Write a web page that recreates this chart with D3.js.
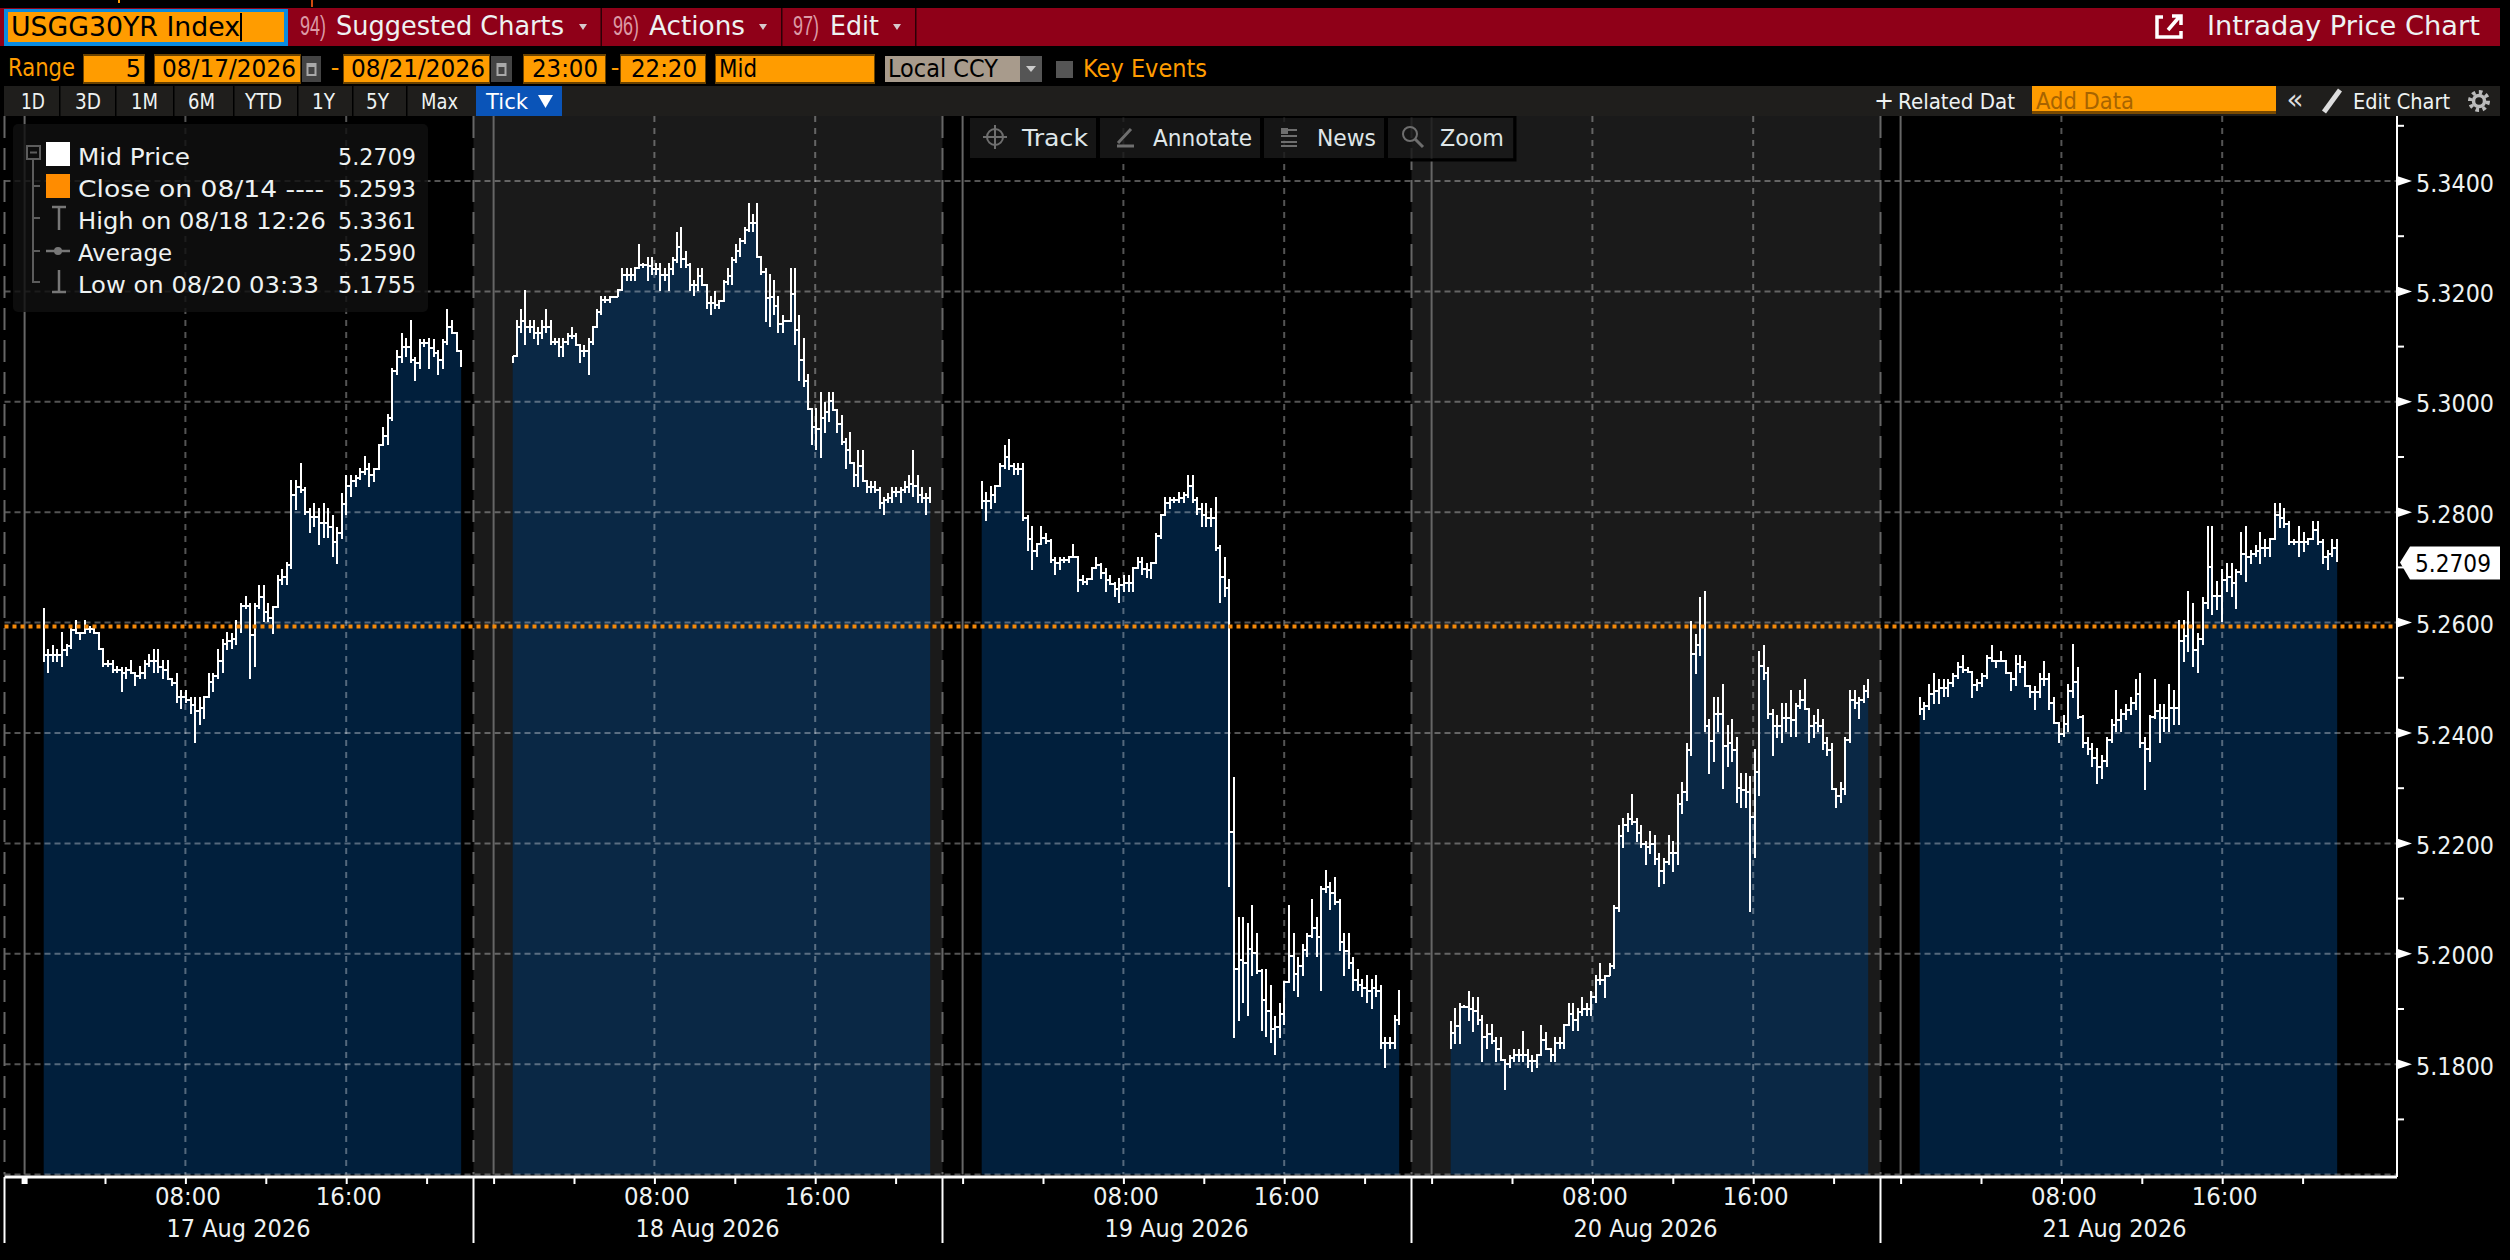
<!DOCTYPE html>
<html><head><meta charset="utf-8">
<script src="https://cdn.jsdelivr.net/npm/d3@7"></script>
<style>html,body{margin:0;padding:0;background:#000}svg{display:block}text{font-family:"DejaVu Sans",sans-serif}</style>
</head><body><svg id="c" width="2510" height="1260"></svg>
<script>
const ticker="USGG30YR Index";
const dayLabels=["17 Aug 2026","18 Aug 2026","19 Aug 2026","20 Aug 2026","21 Aug 2026"];
const yTicks=[5.34,5.32,5.30,5.28,5.26,5.24,5.22,5.20,5.18];
const yMinor=[5.35,5.33,5.31,5.29,5.27,5.25,5.23,5.21,5.19,5.17];
const gridY=[5.34,5.32,5.30,5.28,5.26,5.24,5.22,5.20,5.18,5.16];
const hourTicks=[0,4,8,12,16,20];
const hourLabels={8:"08:00",16:"16:00"};
const lastPrice=5.2709, prevClose=5.2593;
const legendRows=[["Mid Price","5.2709"],["Close on 08/14 ----","5.2593"],["High on 08/18 12:26","5.3361"],["Average","5.2590"],["Low on 08/20 03:33","5.1755"]];
const day1High=[5.2626,5.2553,5.2559,5.2553,5.2583,5.2561,5.2592,5.2605,5.2582,5.2605,5.2594,5.2594,5.2582,5.2553,5.2532,5.2532,5.2521,5.2520,5.2520,5.2532,5.2509,5.2521,5.2532,5.2543,5.2553,5.2553,5.2532,5.2532,5.2497,5.2509,5.2478,5.2478,5.2466,5.2466,5.2466,5.2466,5.2509,5.2509,5.2553,5.2571,5.2583,5.2582,5.2605,5.2636,5.2648,5.2636,5.2636,5.2668,5.2668,5.2636,5.2614,5.2686,5.2698,5.2709,5.2858,5.2858,5.2890,5.2846,5.2807,5.2817,5.2807,5.2817,5.2807,5.2795,5.2774,5.2835,5.2867,5.2867,5.2867,5.2880,5.2901,5.2889,5.2878,5.2922,5.2955,5.2977,5.3061,5.3093,5.3125,5.3115,5.3148,5.3082,5.3113,5.3113,5.3115,5.3113,5.3094,5.3113,5.3169,5.3148,5.3125,5.3093];
const day1Low=[5.2529,5.2508,5.2529,5.2529,5.2519,5.2539,5.2553,5.2580,5.2568,5.2580,5.2582,5.2580,5.2551,5.2519,5.2519,5.2508,5.2508,5.2475,5.2497,5.2509,5.2485,5.2497,5.2497,5.2519,5.2508,5.2508,5.2497,5.2497,5.2485,5.2454,5.2443,5.2454,5.2435,5.2381,5.2414,5.2425,5.2466,5.2475,5.2497,5.2508,5.2551,5.2553,5.2559,5.2582,5.2624,5.2497,5.2519,5.2624,5.2601,5.2601,5.2580,5.2641,5.2668,5.2668,5.2698,5.2804,5.2834,5.2795,5.2762,5.2774,5.2741,5.2753,5.2753,5.2719,5.2707,5.2751,5.2795,5.2828,5.2846,5.2858,5.2867,5.2846,5.2855,5.2878,5.2922,5.2922,5.2966,5.3049,5.3070,5.3082,5.3070,5.3037,5.3059,5.3100,5.3059,5.3082,5.3049,5.3059,5.3103,5.3124,5.3091,5.3063];
const day2High=[5.3083,5.3148,5.3169,5.3203,5.3148,5.3148,5.3136,5.3148,5.3169,5.3148,5.3115,5.3115,5.3115,5.3125,5.3136,5.3125,5.3103,5.3103,5.3115,5.3136,5.3169,5.3191,5.3191,5.3191,5.3191,5.3203,5.3242,5.3242,5.3242,5.3242,5.3285,5.3252,5.3263,5.3263,5.3252,5.3252,5.3242,5.3252,5.3263,5.3308,5.3317,5.3274,5.3252,5.3221,5.3242,5.3242,5.3212,5.3191,5.3201,5.3182,5.3221,5.3242,5.3263,5.3285,5.3296,5.3317,5.3361,5.3340,5.3361,5.3263,5.3242,5.3231,5.3221,5.3191,5.3157,5.3147,5.3242,5.3242,5.3157,5.3115,5.3050,5.2988,5.2988,5.3017,5.3000,5.3017,5.3017,5.2986,5.2976,5.2934,5.2945,5.2890,5.2912,5.2912,5.2857,5.2857,5.2857,5.2846,5.2828,5.2835,5.2846,5.2846,5.2846,5.2857,5.2867,5.2912,5.2867,5.2846,5.2835,5.2846];
const day2Low=[5.3070,5.3082,5.3124,5.3103,5.3124,5.3113,5.3103,5.3113,5.3124,5.3103,5.3103,5.3082,5.3082,5.3103,5.3113,5.3103,5.3070,5.3082,5.3049,5.3103,5.3136,5.3157,5.3179,5.3179,5.3189,5.3189,5.3203,5.3219,5.3219,5.3219,5.3242,5.3242,5.3219,5.3230,5.3230,5.3201,5.3219,5.3201,5.3230,5.3252,5.3242,5.3242,5.3201,5.3191,5.3201,5.3212,5.3168,5.3157,5.3168,5.3168,5.3182,5.3212,5.3212,5.3252,5.3262,5.3285,5.3307,5.3307,5.3263,5.3230,5.3145,5.3136,5.3157,5.3124,5.3124,5.3145,5.3147,5.3103,5.3037,5.3026,5.2986,5.2922,5.2912,5.2899,5.2943,5.2964,5.2986,5.2943,5.2922,5.2878,5.2890,5.2846,5.2846,5.2857,5.2834,5.2834,5.2834,5.2805,5.2795,5.2816,5.2816,5.2828,5.2816,5.2835,5.2835,5.2828,5.2816,5.2816,5.2795,5.2816];
const day3High=[5.2856,5.2836,5.2847,5.2847,5.2889,5.2921,5.2933,5.2889,5.2889,5.2889,5.2795,5.2775,5.2742,5.2775,5.2763,5.2752,5.2719,5.2719,5.2719,5.2719,5.2742,5.2719,5.2686,5.2679,5.2699,5.2719,5.2708,5.2699,5.2686,5.2673,5.2681,5.2686,5.2686,5.2699,5.2719,5.2719,5.2708,5.2708,5.2763,5.2795,5.2828,5.2828,5.2828,5.2836,5.2836,5.2868,5.2868,5.2828,5.2816,5.2816,5.2807,5.2828,5.2741,5.2719,5.2679,5.2320,5.2067,5.2067,5.2056,5.2089,5.2038,5.1972,5.1972,5.1944,5.1888,5.1911,5.1944,5.2089,5.2038,5.1995,5.2018,5.2038,5.2099,5.2067,5.2122,5.2151,5.2130,5.2140,5.2099,5.2038,5.2038,5.1995,5.1972,5.1954,5.1962,5.1954,5.1962,5.1944,5.1850,5.1850,5.1890,5.1934];
const day3Low=[5.2805,5.2784,5.2805,5.2816,5.2847,5.2879,5.2877,5.2868,5.2868,5.2784,5.2729,5.2696,5.2719,5.2742,5.2742,5.2708,5.2686,5.2696,5.2708,5.2708,5.2719,5.2656,5.2668,5.2668,5.2679,5.2699,5.2679,5.2656,5.2668,5.2647,5.2635,5.2656,5.2656,5.2656,5.2699,5.2686,5.2681,5.2679,5.2708,5.2752,5.2795,5.2805,5.2816,5.2816,5.2816,5.2826,5.2816,5.2795,5.2773,5.2773,5.2773,5.2729,5.2635,5.2647,5.2121,5.1848,5.1878,5.1911,5.1888,5.1960,5.1964,5.1860,5.1850,5.1839,5.1817,5.1848,5.1871,5.1953,5.1932,5.1922,5.1960,5.1995,5.2028,5.1995,5.1932,5.2111,5.2079,5.2089,5.2005,5.1960,5.1972,5.1932,5.1932,5.1922,5.1911,5.1900,5.1922,5.1827,5.1794,5.1827,5.1827,5.1871];
const day4High=[5.1878,5.1901,5.1911,5.1907,5.1933,5.1922,5.1922,5.1890,5.1872,5.1872,5.1849,5.1849,5.1807,5.1817,5.1828,5.1828,5.1860,5.1828,5.1817,5.1817,5.1871,5.1859,5.1828,5.1849,5.1849,5.1871,5.1911,5.1911,5.1901,5.1922,5.1911,5.1933,5.1962,5.1983,5.1962,5.1983,5.2089,5.2234,5.2246,5.2255,5.2289,5.2246,5.2234,5.2205,5.2223,5.2216,5.2182,5.2173,5.2216,5.2205,5.2289,5.2311,5.2382,5.2603,5.2580,5.2646,5.2658,5.2425,5.2466,5.2466,5.2488,5.2415,5.2425,5.2393,5.2328,5.2328,5.2322,5.2371,5.2548,5.2559,5.2520,5.2444,5.2433,5.2454,5.2454,5.2477,5.2454,5.2477,5.2498,5.2443,5.2433,5.2444,5.2425,5.2393,5.2382,5.2299,5.2311,5.2393,5.2477,5.2477,5.2466,5.2487,5.2498];
const day4Low=[5.1827,5.1836,5.1836,5.1901,5.1878,5.1859,5.1871,5.1804,5.1827,5.1836,5.1804,5.1807,5.1754,5.1794,5.1804,5.1804,5.1804,5.1794,5.1786,5.1794,5.1817,5.1828,5.1804,5.1804,5.1828,5.1828,5.1871,5.1860,5.1860,5.1888,5.1888,5.1888,5.1911,5.1943,5.1920,5.1959,5.1972,5.2076,5.2192,5.2221,5.2233,5.2202,5.2192,5.2160,5.2181,5.2160,5.2121,5.2127,5.2160,5.2149,5.2160,5.2254,5.2276,5.2358,5.2507,5.2540,5.2402,5.2326,5.2347,5.2402,5.2298,5.2338,5.2347,5.2274,5.2265,5.2265,5.2076,5.2173,5.2286,5.2496,5.2425,5.2358,5.2391,5.2382,5.2402,5.2393,5.2393,5.2443,5.2443,5.2382,5.2391,5.2402,5.2370,5.2358,5.2299,5.2265,5.2274,5.2287,5.2382,5.2443,5.2425,5.2454,5.2464];
const day5High=[5.2465,5.2456,5.2488,5.2509,5.2498,5.2498,5.2498,5.2509,5.2529,5.2542,5.2520,5.2511,5.2498,5.2509,5.2542,5.2560,5.2531,5.2549,5.2531,5.2509,5.2542,5.2542,5.2531,5.2486,5.2486,5.2509,5.2531,5.2509,5.2465,5.2405,5.2432,5.2488,5.2561,5.2520,5.2432,5.2393,5.2382,5.2372,5.2361,5.2393,5.2426,5.2477,5.2444,5.2453,5.2465,5.2498,5.2509,5.2393,5.2432,5.2498,5.2453,5.2453,5.2488,5.2477,5.2604,5.2604,5.2657,5.2636,5.2581,5.2646,5.2775,5.2775,5.2675,5.2698,5.2708,5.2708,5.2698,5.2764,5.2775,5.2731,5.2740,5.2764,5.2752,5.2752,5.2817,5.2817,5.2807,5.2784,5.2752,5.2775,5.2764,5.2752,5.2784,5.2784,5.2752,5.2731,5.2752,5.2752];
const day5Low=[5.2432,5.2424,5.2442,5.2453,5.2453,5.2465,5.2465,5.2483,5.2497,5.2509,5.2509,5.2464,5.2476,5.2483,5.2497,5.2531,5.2518,5.2531,5.2508,5.2476,5.2486,5.2508,5.2486,5.2464,5.2442,5.2464,5.2486,5.2442,5.2432,5.2381,5.2393,5.2402,5.2464,5.2426,5.2372,5.2360,5.2338,5.2308,5.2317,5.2338,5.2382,5.2402,5.2402,5.2424,5.2432,5.2442,5.2372,5.2297,5.2348,5.2426,5.2381,5.2402,5.2402,5.2414,5.2414,5.2529,5.2547,5.2520,5.2508,5.2559,5.2625,5.2613,5.2622,5.2601,5.2656,5.2646,5.2624,5.2686,5.2674,5.2707,5.2718,5.2707,5.2718,5.2719,5.2752,5.2772,5.2772,5.2740,5.2740,5.2718,5.2728,5.2740,5.2752,5.2740,5.2707,5.2696,5.2719,5.2710];

const highs=[day1High,day2High,day3High,day4High,day5High];
const lows=[day1Low,day2Low,day3Low,day4Low,day5Low];

const svg=d3.select("#c");
const W=2510,H=1260;
const PLOT_TOP=116,PLOT_BOTTOM=1174.6,AXIS_Y=1177,AXIS_X=2397,LEFT=4.5,SESSION=469;
const y=d3.scaleLinear().domain([5.16,5.34]).range([1174.6,181]);
const xs=highs.map((_,k)=>d3.scaleLinear().domain([-1,22.3333]).range([LEFT+SESSION*k,LEFT+SESSION*(k+1)]));
const FIRST_H=0.95,LAST_H=21.72;

const FG="#eef2f2",ORANGE="#ff9c00";
function txt(g,s,x,base,size,fill,width,anchor){
  const t=g.append("text").attr("x",x).attr("y",base).attr("font-size",size).attr("fill",fill).text(s);
  if(anchor)t.attr("text-anchor",anchor);
  if(width)t.attr("textLength",width).attr("lengthAdjust","spacingAndGlyphs");
  return t;
}
function rect(g,x0,y0,x1,y1,fill){return g.append("rect").attr("x",x0).attr("y",y0).attr("width",x1-x0).attr("height",y1-y0).attr("fill",fill);}

svg.append("rect").attr("width",W).attr("height",H).attr("fill","#000");

/* plot */
const plot=svg.append("g");
highs.forEach((_,k)=>{ if(k%2===1) rect(plot,xs[k].range()[0],PLOT_TOP,xs[k].range()[1],PLOT_BOTTOM,"#1a1a1a"); });

const areaG=plot.append("g"),gridG=plot.append("g"),lineG=plot.append("g");

highs.forEach((hi,k)=>{
  const lo=lows[k],n=hi.length,x=xs[k];
  const hour=d3.scaleLinear().domain([0,n-1]).range([FIRST_H,LAST_H]);
  const bars=hi.map((h,i)=>{
    const j=Math.min(i+1,n-1);
    const a=Math.max(lo[i],lo[j]),b=Math.min(hi[i],hi[j]);
    return {i,h,l:lo[i],c:(a+b)/2};
  });
  const area=d3.area().curve(d3.curveStepAfter).x(d=>x(hour(d.i))).y0(PLOT_BOTTOM).y1(d=>y(d.c));
  areaG.append("path").attr("d",area(bars)).attr("fill","#02305c").attr("fill-opacity",0.65);
  const pts=[];
  bars.forEach(d=>{
    pts.push([d.i,d.l],[d.i,d.h],[d.i,d.c]);
    if(d.i<n-1)pts.push([d.i+1,d.c]);
  });
  const line=d3.line().x(d=>x(hour(d[0]))).y(d=>y(d[1]));
  lineG.append("path").attr("d",line(pts)).attr("fill","none").attr("stroke","#fff").attr("stroke-width",2).attr("shape-rendering","crispEdges");
});

/* grid */
const GRIDC="rgba(255,255,255,0.33)";
gridY.forEach(v=>gridG.append("line").attr("x1",LEFT).attr("x2",AXIS_X).attr("y1",y(v)).attr("y2",y(v)).attr("stroke",GRIDC).attr("stroke-width",2).attr("stroke-dasharray","6,4"));
xs.forEach((x,k)=>{
  [8,16].forEach(h=>gridG.append("line").attr("x1",x(h)).attr("x2",x(h)).attr("y1",PLOT_TOP).attr("y2",PLOT_BOTTOM).attr("stroke",GRIDC).attr("stroke-width",2).attr("stroke-dasharray","6,6"));
  gridG.append("line").attr("x1",x(0)).attr("x2",x(0)).attr("y1",PLOT_TOP).attr("y2",PLOT_BOTTOM).attr("stroke","#666").attr("stroke-width",2);
  gridG.append("line").attr("x1",x(-1)).attr("x2",x(-1)).attr("y1",PLOT_TOP).attr("y2",PLOT_BOTTOM).attr("stroke","#666").attr("stroke-width",2).attr("stroke-dasharray","22,10");
});
lineG.raise();
plot.append("line").attr("x1",LEFT).attr("x2",AXIS_X).attr("y1",y(prevClose)).attr("y2",y(prevClose)).attr("stroke","#f68a0a").attr("stroke-width",4).attr("stroke-dasharray","4,4");

/* y axis */
const yAx=svg.append("g").attr("transform",`translate(${AXIS_X},0)`)
  .call(d3.axisRight(y).tickValues(yTicks).tickSize(0).tickPadding(19).tickFormat(d3.format(".4f")));
yAx.select(".domain").remove();
yAx.selectAll("text").attr("font-size",24).attr("fill",FG).attr("dy","0.42em").attr("textLength",78).attr("lengthAdjust","spacingAndGlyphs").style("font-family",'"DejaVu Sans",sans-serif');
svg.append("line").attr("x1",AXIS_X).attr("x2",AXIS_X).attr("y1",PLOT_TOP).attr("y2",AXIS_Y).attr("stroke","#fff").attr("stroke-width",2);
yTicks.forEach(v=>svg.append("path").attr("d",d3.line()([[AXIS_X,y(v)-5],[AXIS_X+15,y(v)],[AXIS_X,y(v)+5]])).attr("fill","#fff"));
yMinor.forEach(v=>svg.append("line").attr("x1",AXIS_X).attr("x2",AXIS_X+7).attr("y1",y(v)).attr("y2",y(v)).attr("stroke","#fff").attr("stroke-width",2));
/* last price tag */
const ly=y(lastPrice);
svg.append("path").attr("d",d3.line()([[2400,ly],[2410,ly-16],[2500,ly-16],[2500,ly+17],[2410,ly+17]])).attr("fill","#fff");
txt(svg,lastPrice.toFixed(4),2415,ly+10,24,"#000",76);

/* x axis */
svg.append("line").attr("x1",LEFT).attr("x2",AXIS_X).attr("y1",AXIS_Y).attr("y2",AXIS_Y).attr("stroke","#fff").attr("stroke-width",3);
xs.forEach((x,k)=>{
  const g=svg.append("g").attr("transform",`translate(0,${AXIS_Y})`)
    .call(d3.axisBottom(x).tickValues(hourTicks).tickSize(7).tickPadding(6).tickFormat(h=>hourLabels[h]||""));
  g.select(".domain").remove();
  g.selectAll("line").attr("stroke","#fff").attr("stroke-width",2);
  g.selectAll("text").attr("font-size",24).attr("fill",FG).attr("y",0).attr("dy",28).style("font-family",'"DejaVu Sans",sans-serif')
    .each(function(){ if(d3.select(this).text()) d3.select(this).attr("textLength",66).attr("lengthAdjust","spacingAndGlyphs").attr("dx",2); });
  svg.append("line").attr("x1",x(-1)).attr("x2",x(-1)).attr("y1",AXIS_Y).attr("y2",1243).attr("stroke","#fff").attr("stroke-width",2);
  txt(svg,dayLabels[k],x(-1)+234,1237,24,FG,144,"middle");
});
rect(svg,xs[0](0)-3,AXIS_Y,xs[0](0)+3,1184,"#fff");

/* legend */
const leg=svg.append("g");
leg.append("rect").attr("x",13).attr("y",124).attr("width",415).attr("height",188).attr("rx",5).attr("fill","rgba(16,16,16,0.82)");
const LINE="#5c5c5c";
const legY=[165,197,229,261,293];
const legW=[112,246,248,94,241];
legendRows.forEach((r,i)=>{
  txt(leg,r[0],78,legY[i],23,FG,legW[i]);
  txt(leg,r[1],338,legY[i],23,FG,78);
});
rect(leg,46,142,70,166,"#fff");
rect(leg,46,174,70,198,"#ff8c00");
leg.append("path").attr("d","M33 160V282H40M33 186H40M33 218H40M33 251H40").attr("fill","none").attr("stroke",LINE).attr("stroke-width",2);
leg.append("rect").attr("x",27).attr("y",146).attr("width",13).attr("height",13).attr("fill","none").attr("stroke",LINE).attr("stroke-width",2);
leg.append("path").attr("d","M30 152.5H37").attr("stroke",LINE).attr("stroke-width",2);
leg.append("path").attr("d","M52 207H66M59 207V230M46 251H70M59 270V292M52 292H66").attr("fill","none").attr("stroke","#777").attr("stroke-width",2.5);
leg.append("circle").attr("cx",58).attr("cy",251).attr("r",4).attr("fill","#777");

/* floating toolbar */
const tb=svg.append("g");
tb.append("rect").attr("x",968).attr("y",116).attr("width",547).attr("height",44).attr("fill","rgba(0,0,0,0.55)").attr("stroke","#000").attr("stroke-width",3);
[[970,1096],[1100,1260],[1264,1384],[1388,1513]].forEach(b=>rect(tb,b[0],118,b[1],158,"rgba(34,34,34,0.62)"));
[["Track",1022,66],["Annotate",1153,99],["News",1317,59],["Zoom",1440,64]].forEach(t=>txt(tb,t[0],t[1],146,23,"#dfe6e8",t[2]));
const IC="#6e6e6e";
tb.append("circle").attr("cx",995).attr("cy",137).attr("r",8).attr("fill","none").attr("stroke",IC).attr("stroke-width",2);
tb.append("path").attr("d","M983 137H1007M995 125V149").attr("stroke",IC).attr("stroke-width",2);
tb.append("path").attr("d","M1118 143L1131 129M1117 146H1134").attr("stroke",IC).attr("stroke-width",3).attr("fill","none");
tb.append("path").attr("d","M1281 130H1297M1281 136H1297M1281 142H1297M1281 146H1297").attr("stroke",IC).attr("stroke-width",2).attr("fill","none");
rect(tb,1281,128,1288,134,IC);
tb.append("circle").attr("cx",1410).attr("cy",134).attr("r",7).attr("fill","none").attr("stroke",IC).attr("stroke-width",2);
tb.append("path").attr("d","M1415 139L1423 147").attr("stroke",IC).attr("stroke-width",3);

/* top bars */
const topBar=svg.append("g");
rect(topBar,0,8,2500,46,"#8f0018");
rect(topBar,4,9,288,46,"#0a8be0");
rect(topBar,8,12,284,42,ORANGE);
txt(topBar,ticker,11,36,27,"#000",229);
rect(topBar,240,13,242,41,"#000");
[[300,26,"94)"],[613,26,"96)"],[793,26,"97)"]].forEach(m=>{
  txt(topBar,m[2],m[0],35,27,"#dc9aa6",m[1]).style("font-family",'"Liberation Sans Narrow","Liberation Sans",sans-serif');
});
txt(topBar,"Suggested Charts",336,35,27,FG,228);
txt(topBar,"Actions",649,35,27,FG,96);
txt(topBar,"Edit",830,35,27,FG,49);
[583,763,897].forEach(a=>topBar.append("path").attr("d",d3.line()([[a-4,24],[a+4,24],[a,30]])).attr("fill","#d8c8cc"));
[600.5,781,915].forEach(a=>rect(topBar,a,8,a+1.5,46,"#2b0006"));
topBar.append("path").attr("d","M2163 17H2157V37H2181V31M2168 30L2180 16M2172 16H2181V25").attr("fill","none").attr("stroke","#fff").attr("stroke-width",3.5);
txt(topBar,"Intraday Price Chart",2207,35,26,FG,273);
rect(topBar,118,0,120,3,"#ff9c00");
rect(topBar,311,0,313,7,"#cf4a10");

/* row 2 */
const r2=svg.append("g");
txt(r2,"Range",8,76,24,ORANGE,67);
[[84,144],[155,300],[344,489],[524,605],[621,705],[716,874]].forEach(b=>{
  rect(r2,b[0]-1,54,b[1]+1,84,"#6b4300");
  rect(r2,b[0],56,b[1],82,ORANGE);
});
txt(r2,"5",141,77,24,"#000",null,"end");
txt(r2,"08/17/2026",162,77,24,"#000",134);
txt(r2,"08/21/2026",351,77,24,"#000",134);
txt(r2,"23:00",532,77,24,"#000",66);
txt(r2,"22:20",631,77,24,"#000",66);
txt(r2,"Mid",719,77,24,"#000",38);
txt(r2,"-",335,76,24,ORANGE,null,"middle");
txt(r2,"-",615,76,24,ORANGE,null,"middle");
[[302,321],[491,512]].forEach(b=>{
  rect(r2,b[0],56,b[1],82,"#444");
  rect(r2,(b[0]+b[1])/2-5,63,(b[0]+b[1])/2+5,76,"#aaa");
  rect(r2,(b[0]+b[1])/2-3,67,(b[0]+b[1])/2+3,74,"#444");
});
rect(r2,885,56,1020,82,"#a89b8c");
rect(r2,1020,56,1042,82,"#555");
txt(r2,"Local CCY",888,77,24,"#000",110);
r2.append("path").attr("d",d3.line()([[1026,66],[1036,66],[1031,72]])).attr("fill","#ccc");
rect(r2,1056,61,1073,78,"#555");
txt(r2,"Key Events",1083,77,24,ORANGE,124);

/* row 3 */
const r3=svg.append("g");
rect(r3,4,86,2500,116,"#1f1e1c");
const rangeBtns=[["1D",21,24],["3D",75,26],["1M",131,27],["6M",188,27],["YTD",245,37],["1Y",312,23],["5Y",366,23],["Max",421,37]];
rangeBtns.forEach(b=>txt(r3,b[0],b[1],109,21,FG,b[2]));
[59,115,173,233,297,352,406,476].forEach(a=>rect(r3,a,86,a+1.5,116,"#000"));
rect(r3,476,86,562,116,"#0a54b8");
txt(r3,"Tick",486,109,22,"#fff",42);
r3.append("path").attr("d",d3.line()([[538,95],[553,95],[545.5,108]])).attr("fill","#fff");
txt(r3,"+",1874,109,24,FG);
txt(r3,"Related Dat",1898,109,21,FG,117);
rect(r3,2032,86,2276,113,ORANGE);
rect(r3,2032,111,2276,114,"#7a4a00");
txt(r3,"Add Data",2036,109,23,"#a76400",98);
txt(r3,"«",2295,109,28,"#ddd",null,"middle");
r3.append("path").attr("d","M2324 112L2340 90").attr("stroke","#ddd").attr("stroke-width",5);
txt(r3,"Edit Chart",2353,109,21,FG,97);
r3.append("circle").attr("cx",2479).attr("cy",101).attr("r",9).attr("fill","none").attr("stroke","#bbb").attr("stroke-width",4).attr("stroke-dasharray","3.5,3.5");
r3.append("circle").attr("cx",2479).attr("cy",101).attr("r",5.5).attr("fill","none").attr("stroke","#bbb").attr("stroke-width",3.5);
</script></body></html>
